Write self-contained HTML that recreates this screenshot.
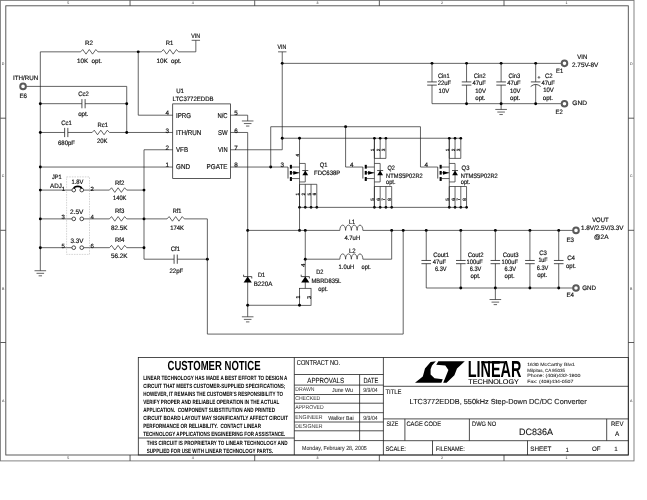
<!DOCTYPE html>
<html><head><meta charset="utf-8"><title>DC836A - LTC3772EDDB Step-Down DC/DC Converter</title>
<style>
html,body{margin:0;padding:0;background:#fff;}
svg{display:block;font-family:"Liberation Sans",sans-serif;text-rendering:geometricPrecision;filter:grayscale(1);}
</style></head>
<body>
<svg width="647" height="500" viewBox="0 0 647 500">
<rect x="0" y="0" width="647" height="500" fill="#fff"/>
<rect x="0.4" y="0.4" width="633.6" height="460.5" fill="none" stroke="#777" stroke-width="0.9" />
<rect x="5.8" y="5.8" width="622.5" height="449.2" fill="none" stroke="#4a4a4a" stroke-width="0.9" />
<line x1="130.05" y1="0.4" x2="130.05" y2="5.8" stroke="#333" stroke-width="0.8" />
<line x1="130.05" y1="455.0" x2="130.05" y2="460.9" stroke="#333" stroke-width="0.8" />
<line x1="254.7" y1="0.4" x2="254.7" y2="5.8" stroke="#333" stroke-width="0.8" />
<line x1="254.7" y1="455.0" x2="254.7" y2="460.9" stroke="#333" stroke-width="0.8" />
<line x1="379.35" y1="0.4" x2="379.35" y2="5.8" stroke="#333" stroke-width="0.8" />
<line x1="379.35" y1="455.0" x2="379.35" y2="460.9" stroke="#333" stroke-width="0.8" />
<line x1="504.0" y1="0.4" x2="504.0" y2="5.8" stroke="#333" stroke-width="0.8" />
<line x1="504.0" y1="455.0" x2="504.0" y2="460.9" stroke="#333" stroke-width="0.8" />
<line x1="0.4" y1="118.2" x2="5.8" y2="118.2" stroke="#333" stroke-width="0.8" />
<line x1="628.3" y1="118.2" x2="634.0" y2="118.2" stroke="#333" stroke-width="0.8" />
<line x1="0.4" y1="230.3" x2="5.8" y2="230.3" stroke="#333" stroke-width="0.8" />
<line x1="628.3" y1="230.3" x2="634.0" y2="230.3" stroke="#333" stroke-width="0.8" />
<line x1="0.4" y1="342.5" x2="5.8" y2="342.5" stroke="#333" stroke-width="0.8" />
<line x1="628.3" y1="342.5" x2="634.0" y2="342.5" stroke="#333" stroke-width="0.8" />
<text x="68.3" y="4.29" font-size="3.6" text-anchor="middle" fill="#222" xml:space="preserve">5</text>
<text x="68.3" y="459.39" font-size="3.6" text-anchor="middle" fill="#222" xml:space="preserve">5</text>
<text x="192.8" y="4.29" font-size="3.6" text-anchor="middle" fill="#222" xml:space="preserve">4</text>
<text x="192.8" y="459.39" font-size="3.6" text-anchor="middle" fill="#222" xml:space="preserve">4</text>
<text x="317.4" y="4.29" font-size="3.6" text-anchor="middle" fill="#222" xml:space="preserve">3</text>
<text x="317.4" y="459.39" font-size="3.6" text-anchor="middle" fill="#222" xml:space="preserve">3</text>
<text x="442" y="4.29" font-size="3.6" text-anchor="middle" fill="#222" xml:space="preserve">2</text>
<text x="442" y="459.39" font-size="3.6" text-anchor="middle" fill="#222" xml:space="preserve">2</text>
<text x="566.5" y="4.29" font-size="3.6" text-anchor="middle" fill="#222" xml:space="preserve">1</text>
<text x="566.5" y="459.39" font-size="3.6" text-anchor="middle" fill="#222" xml:space="preserve">1</text>
<text x="3.1" y="65.29" font-size="3.6" text-anchor="middle" fill="#222" xml:space="preserve">D</text>
<text x="631.3" y="65.29" font-size="3.6" text-anchor="middle" fill="#222" xml:space="preserve">D</text>
<text x="3.1" y="177.29" font-size="3.6" text-anchor="middle" fill="#222" xml:space="preserve">C</text>
<text x="631.3" y="177.29" font-size="3.6" text-anchor="middle" fill="#222" xml:space="preserve">C</text>
<text x="3.1" y="289.79" font-size="3.6" text-anchor="middle" fill="#222" xml:space="preserve">B</text>
<text x="631.3" y="289.79" font-size="3.6" text-anchor="middle" fill="#222" xml:space="preserve">B</text>
<text x="3.1" y="402.29" font-size="3.6" text-anchor="middle" fill="#222" xml:space="preserve">A</text>
<text x="631.3" y="402.29" font-size="3.6" text-anchor="middle" fill="#222" xml:space="preserve">A</text>
<line x1="40.32" y1="51.84" x2="40.32" y2="270.72" stroke="#222" stroke-width="0.7" />
<line x1="34.52" y1="270.72" x2="46.12" y2="270.72" stroke="#222" stroke-width="0.7" />
<line x1="36.52" y1="273.32000000000005" x2="44.12" y2="273.32000000000005" stroke="#222" stroke-width="0.7" />
<line x1="38.62" y1="275.82000000000005" x2="42.02" y2="275.82000000000005" stroke="#222" stroke-width="0.7" />
<line x1="40.32" y1="51.84" x2="80.64" y2="51.84" stroke="#222" stroke-width="0.7" />
<polyline points="80.64,51.84 82.74,49.540000000000006 86.01,54.14 89.28,49.540000000000006 92.55,54.14 95.82,49.540000000000006 97.92,51.84" fill="none" stroke="#222" stroke-width="0.7" />
<line x1="97.92" y1="51.84" x2="161.28" y2="51.84" stroke="#222" stroke-width="0.7" />
<polyline points="161.28,51.84 163.38,49.540000000000006 166.65,54.14 169.92,49.540000000000006 173.19,54.14 176.46,49.540000000000006 178.56,51.84" fill="none" stroke="#222" stroke-width="0.7" />
<polyline points="178.56,51.84 195.84,51.84 195.84,40.32" fill="none" stroke="#222" stroke-width="0.7" />
<line x1="191.64000000000001" y1="40.32" x2="200.04" y2="40.32" stroke="#222" stroke-width="0.7" />
<circle cx="138.24" cy="51.84" r="1.45" fill="#000"/>
<polyline points="138.24,51.84 138.24,115.2 172.8,115.2" fill="none" stroke="#222" stroke-width="0.7" />
<polyline points="25.04,86.4 126.72,86.4 126.72,132.48" fill="none" stroke="#222" stroke-width="0.7" />
<circle cx="23.04" cy="86.4" r="2.8" fill="#fff" stroke="#5a5a5a" stroke-width="2.0"/>
<line x1="40.32" y1="103.68" x2="81.92" y2="103.68" stroke="#222" stroke-width="0.7" />
<line x1="85.11999999999999" y1="103.68" x2="126.72" y2="103.68" stroke="#222" stroke-width="0.7" />
<line x1="81.92" y1="99.08000000000001" x2="81.92" y2="108.28" stroke="#222" stroke-width="0.8" />
<line x1="85.12" y1="99.08000000000001" x2="85.12" y2="108.28" stroke="#222" stroke-width="0.8" />
<circle cx="40.32" cy="103.68" r="1.45" fill="#000"/>
<circle cx="126.72" cy="103.68" r="1.45" fill="#000"/>
<line x1="40.32" y1="132.48" x2="64.64" y2="132.48" stroke="#222" stroke-width="0.7" />
<line x1="64.64" y1="127.88" x2="64.64" y2="137.07999999999998" stroke="#222" stroke-width="0.8" />
<line x1="67.84" y1="127.88" x2="67.84" y2="137.07999999999998" stroke="#222" stroke-width="0.8" />
<line x1="67.83999999999999" y1="132.48" x2="92.16" y2="132.48" stroke="#222" stroke-width="0.7" />
<polyline points="92.16,132.48 94.25999999999999,130.17999999999998 97.53,134.78 100.8,130.17999999999998 104.07,134.78 107.34,130.17999999999998 109.44,132.48" fill="none" stroke="#222" stroke-width="0.7" />
<line x1="109.44" y1="132.48" x2="172.8" y2="132.48" stroke="#222" stroke-width="0.7" />
<circle cx="40.32" cy="132.48" r="1.45" fill="#000"/>
<circle cx="126.72" cy="132.48" r="1.45" fill="#000"/>
<polyline points="172.8,149.76 144.0,149.76 144.0,259.2 174.08,259.2" fill="none" stroke="#222" stroke-width="0.7" />
<line x1="174.08" y1="254.6" x2="174.08" y2="263.8" stroke="#222" stroke-width="0.8" />
<line x1="177.28" y1="254.6" x2="177.28" y2="263.8" stroke="#222" stroke-width="0.8" />
<line x1="177.28" y1="259.2" x2="207.36" y2="259.2" stroke="#222" stroke-width="0.7" />
<circle cx="207.36" cy="259.2" r="1.45" fill="#000"/>
<line x1="40.32" y1="167.04" x2="172.8" y2="167.04" stroke="#222" stroke-width="0.7" />
<circle cx="40.32" cy="167.04" r="1.45" fill="#000"/>
<line x1="40.32" y1="190.08" x2="71.86" y2="190.08" stroke="#222" stroke-width="0.7" />
<line x1="83.66000000000001" y1="190.08" x2="109.44" y2="190.08" stroke="#222" stroke-width="0.7" />
<polyline points="109.44,190.08 111.53999999999999,187.78 114.81,192.38000000000002 118.08,187.78 121.35,192.38000000000002 124.62,187.78 126.72,190.08" fill="none" stroke="#222" stroke-width="0.7" />
<line x1="126.72" y1="190.08" x2="144.0" y2="190.08" stroke="#222" stroke-width="0.7" />
<circle cx="40.32" cy="190.08" r="1.45" fill="#000"/>
<circle cx="144.0" cy="190.08" r="1.45" fill="#000"/>
<circle cx="73.76" cy="190.08" r="1.85" fill="#fff" stroke="#111" stroke-width="0.75"/>
<circle cx="81.76" cy="190.08" r="1.85" fill="#fff" stroke="#111" stroke-width="0.75"/>
<line x1="40.32" y1="218.88" x2="71.86" y2="218.88" stroke="#222" stroke-width="0.7" />
<line x1="83.66000000000001" y1="218.88" x2="109.44" y2="218.88" stroke="#222" stroke-width="0.7" />
<polyline points="109.44,218.88 111.53999999999999,216.57999999999998 114.81,221.18 118.08,216.57999999999998 121.35,221.18 124.62,216.57999999999998 126.72,218.88" fill="none" stroke="#222" stroke-width="0.7" />
<line x1="126.72" y1="218.88" x2="144.0" y2="218.88" stroke="#222" stroke-width="0.7" />
<circle cx="40.32" cy="218.88" r="1.45" fill="#000"/>
<circle cx="144.0" cy="218.88" r="1.45" fill="#000"/>
<circle cx="73.76" cy="218.88" r="1.85" fill="#fff" stroke="#111" stroke-width="0.75"/>
<circle cx="81.76" cy="218.88" r="1.85" fill="#fff" stroke="#111" stroke-width="0.75"/>
<line x1="40.32" y1="247.68" x2="71.86" y2="247.68" stroke="#222" stroke-width="0.7" />
<line x1="83.66000000000001" y1="247.68" x2="109.44" y2="247.68" stroke="#222" stroke-width="0.7" />
<polyline points="109.44,247.68 111.53999999999999,245.38 114.81,249.98000000000002 118.08,245.38 121.35,249.98000000000002 124.62,245.38 126.72,247.68" fill="none" stroke="#222" stroke-width="0.7" />
<line x1="126.72" y1="247.68" x2="144.0" y2="247.68" stroke="#222" stroke-width="0.7" />
<circle cx="40.32" cy="247.68" r="1.45" fill="#000"/>
<circle cx="144.0" cy="247.68" r="1.45" fill="#000"/>
<circle cx="73.76" cy="247.68" r="1.85" fill="#fff" stroke="#111" stroke-width="0.75"/>
<circle cx="81.76" cy="247.68" r="1.85" fill="#fff" stroke="#111" stroke-width="0.75"/>
<path d="M73.86,188.48 C74.56,185.68 80.96,185.68 81.66,188.48" fill="none" stroke="#000" stroke-width="1.7"/>
<rect x="66.6" y="176.9" width="22.900000000000006" height="77.5" fill="none" stroke="#aaa" stroke-width="0.5" stroke-dasharray="1.6 1.0"/>
<line x1="144.0" y1="218.88" x2="167.04" y2="218.88" stroke="#222" stroke-width="0.7" />
<polyline points="167.04,218.88 169.14,216.57999999999998 172.41,221.18 175.68,216.57999999999998 178.95,221.18 182.22,216.57999999999998 184.32,218.88" fill="none" stroke="#222" stroke-width="0.7" />
<polyline points="184.32,218.88 207.36,218.88 207.36,334.08 403.2,334.08 403.2,230.4" fill="none" stroke="#222" stroke-width="0.7" />
<rect x="172.7" y="103.9" width="57.80000000000001" height="74.6" fill="none" stroke="#222" stroke-width="0.75" />
<polyline points="230.5,115.2 247.68,115.2 247.68,120.96" fill="none" stroke="#222" stroke-width="0.7" />
<line x1="241.88" y1="120.96" x2="253.48000000000002" y2="120.96" stroke="#222" stroke-width="0.7" />
<line x1="243.88" y1="123.55999999999999" x2="251.48000000000002" y2="123.55999999999999" stroke="#222" stroke-width="0.7" />
<line x1="245.98000000000002" y1="126.05999999999999" x2="249.38" y2="126.05999999999999" stroke="#222" stroke-width="0.7" />
<polyline points="230.5,132.48 247.68,132.48 247.68,316.8" fill="none" stroke="#222" stroke-width="0.7" />
<line x1="241.88" y1="316.8" x2="253.48000000000002" y2="316.8" stroke="#222" stroke-width="0.7" />
<line x1="243.88" y1="319.40000000000003" x2="251.48000000000002" y2="319.40000000000003" stroke="#222" stroke-width="0.7" />
<line x1="245.98000000000002" y1="321.90000000000003" x2="249.38" y2="321.90000000000003" stroke="#222" stroke-width="0.7" />
<circle cx="247.68" cy="230.4" r="1.45" fill="#000"/>
<circle cx="247.68" cy="305.28" r="1.45" fill="#000"/>
<line x1="230.5" y1="149.76" x2="282.24" y2="149.76" stroke="#222" stroke-width="0.7" />
<line x1="282.24" y1="51.84" x2="282.24" y2="149.76" stroke="#222" stroke-width="0.7" />
<line x1="278.04" y1="51.84" x2="286.44" y2="51.84" stroke="#222" stroke-width="0.7" />
<circle cx="282.24" cy="63.36" r="1.45" fill="#000"/>
<circle cx="282.24" cy="138.24" r="1.45" fill="#000"/>
<line x1="230.5" y1="167.04" x2="288.0" y2="167.04" stroke="#222" stroke-width="0.7" />
<circle cx="270.72" cy="167.04" r="1.45" fill="#000"/>
<polyline points="270.72,167.04 270.72,126.72 420.48,126.72 420.48,167.04 437.76,167.04" fill="none" stroke="#222" stroke-width="0.7" />
<circle cx="345.6" cy="126.72" r="1.45" fill="#000"/>
<polyline points="345.6,126.72 345.6,167.04 362.88,167.04" fill="none" stroke="#222" stroke-width="0.7" />
<line x1="282.24" y1="63.36" x2="561.48" y2="63.36" stroke="#222" stroke-width="0.7" />
<circle cx="432.0" cy="63.36" r="1.45" fill="#000"/>
<circle cx="466.56" cy="63.36" r="1.45" fill="#000"/>
<circle cx="501.12" cy="63.36" r="1.45" fill="#000"/>
<circle cx="535.68" cy="63.36" r="1.45" fill="#000"/>
<line x1="282.24" y1="138.24" x2="460.8" y2="138.24" stroke="#222" stroke-width="0.7" />
<line x1="288.0" y1="167.04" x2="288.0" y2="178.54" stroke="#222" stroke-width="0.8" />
<line x1="290.9" y1="164.84" x2="290.9" y2="168.64" stroke="#000" stroke-width="2.1" />
<line x1="290.9" y1="170.94" x2="290.9" y2="174.64" stroke="#000" stroke-width="2.1" />
<line x1="290.9" y1="177.04" x2="290.9" y2="180.94" stroke="#000" stroke-width="2.1" />
<line x1="290.9" y1="167.04" x2="299.52" y2="167.04" stroke="#222" stroke-width="0.7" />
<line x1="290.9" y1="172.79999999999998" x2="299.52" y2="172.79999999999998" stroke="#222" stroke-width="0.7" />
<line x1="290.9" y1="178.56" x2="299.52" y2="178.56" stroke="#222" stroke-width="0.7" />
<polygon points="299.21999999999997,172.79999999999998 293.21999999999997,170.94 293.21999999999997,174.64" fill="#000" stroke="none" stroke-width="0"/>
<line x1="299.52" y1="138.24" x2="299.52" y2="207.36" stroke="#222" stroke-width="0.7" />
<polyline points="299.52,163.44 305.28,163.44 305.28,181.94 299.52,181.94" fill="none" stroke="#222" stroke-width="0.7" />
<polygon points="305.28,170.54 302.38,175.34 308.17999999999995,175.34" fill="#000" stroke="none" stroke-width="0"/>
<line x1="302.28" y1="170.54" x2="308.28" y2="170.54" stroke="#222" stroke-width="0.8" />
<line x1="299.52" y1="184.32" x2="316.8" y2="184.32" stroke="#222" stroke-width="0.7" />
<line x1="299.52" y1="184.32" x2="299.52" y2="207.36" stroke="#222" stroke-width="0.7" />
<circle cx="299.52" cy="207.36" r="1.35" fill="#000"/>
<line x1="305.28" y1="184.32" x2="305.28" y2="207.36" stroke="#222" stroke-width="0.7" />
<circle cx="305.28" cy="207.36" r="1.35" fill="#000"/>
<line x1="311.04" y1="184.32" x2="311.04" y2="207.36" stroke="#222" stroke-width="0.7" />
<circle cx="311.04" cy="207.36" r="1.35" fill="#000"/>
<line x1="316.8" y1="184.32" x2="316.8" y2="207.36" stroke="#222" stroke-width="0.7" />
<circle cx="316.8" cy="207.36" r="1.35" fill="#000"/>
<circle cx="299.52" cy="138.24" r="1.45" fill="#000"/>
<line x1="362.88" y1="167.04" x2="362.88" y2="178.54" stroke="#222" stroke-width="0.8" />
<line x1="365.78" y1="164.84" x2="365.78" y2="168.64" stroke="#000" stroke-width="2.1" />
<line x1="365.78" y1="170.94" x2="365.78" y2="174.64" stroke="#000" stroke-width="2.1" />
<line x1="365.78" y1="177.04" x2="365.78" y2="180.94" stroke="#000" stroke-width="2.1" />
<line x1="365.78" y1="167.04" x2="374.4" y2="167.04" stroke="#222" stroke-width="0.7" />
<line x1="365.78" y1="172.79999999999998" x2="374.4" y2="172.79999999999998" stroke="#222" stroke-width="0.7" />
<line x1="365.78" y1="178.56" x2="374.4" y2="178.56" stroke="#222" stroke-width="0.7" />
<polygon points="374.09999999999997,172.79999999999998 368.09999999999997,170.94 368.09999999999997,174.64" fill="#000" stroke="none" stroke-width="0"/>
<line x1="374.4" y1="138.24" x2="374.4" y2="207.36" stroke="#222" stroke-width="0.7" />
<polyline points="374.4,163.44 380.16,163.44 380.16,181.94 374.4,181.94" fill="none" stroke="#222" stroke-width="0.7" />
<polygon points="380.16,170.54 377.26000000000005,175.34 383.06,175.34" fill="#000" stroke="none" stroke-width="0"/>
<line x1="377.16" y1="170.54" x2="383.16" y2="170.54" stroke="#222" stroke-width="0.8" />
<line x1="374.4" y1="186.5" x2="391.68" y2="186.5" stroke="#222" stroke-width="0.7" />
<line x1="374.4" y1="186.5" x2="374.4" y2="207.36" stroke="#222" stroke-width="0.7" />
<circle cx="374.4" cy="207.36" r="1.35" fill="#000"/>
<line x1="380.16" y1="186.5" x2="380.16" y2="207.36" stroke="#222" stroke-width="0.7" />
<circle cx="380.16" cy="207.36" r="1.35" fill="#000"/>
<line x1="385.92" y1="186.5" x2="385.92" y2="207.36" stroke="#222" stroke-width="0.7" />
<circle cx="385.92" cy="207.36" r="1.35" fill="#000"/>
<line x1="391.68" y1="186.5" x2="391.68" y2="207.36" stroke="#222" stroke-width="0.7" />
<circle cx="391.68" cy="207.36" r="1.35" fill="#000"/>
<line x1="374.4" y1="158.4" x2="385.92" y2="158.4" stroke="#222" stroke-width="0.7" />
<line x1="374.4" y1="138.24" x2="374.4" y2="158.4" stroke="#222" stroke-width="0.7" />
<circle cx="374.4" cy="138.24" r="1.35" fill="#000"/>
<line x1="380.16" y1="138.24" x2="380.16" y2="158.4" stroke="#222" stroke-width="0.7" />
<circle cx="380.16" cy="138.24" r="1.35" fill="#000"/>
<line x1="385.92" y1="138.24" x2="385.92" y2="158.4" stroke="#222" stroke-width="0.7" />
<circle cx="385.92" cy="138.24" r="1.35" fill="#000"/>
<line x1="437.76" y1="167.04" x2="437.76" y2="178.54" stroke="#222" stroke-width="0.8" />
<line x1="440.65999999999997" y1="164.84" x2="440.65999999999997" y2="168.64" stroke="#000" stroke-width="2.1" />
<line x1="440.65999999999997" y1="170.94" x2="440.65999999999997" y2="174.64" stroke="#000" stroke-width="2.1" />
<line x1="440.65999999999997" y1="177.04" x2="440.65999999999997" y2="180.94" stroke="#000" stroke-width="2.1" />
<line x1="440.65999999999997" y1="167.04" x2="449.28" y2="167.04" stroke="#222" stroke-width="0.7" />
<line x1="440.65999999999997" y1="172.79999999999998" x2="449.28" y2="172.79999999999998" stroke="#222" stroke-width="0.7" />
<line x1="440.65999999999997" y1="178.56" x2="449.28" y2="178.56" stroke="#222" stroke-width="0.7" />
<polygon points="448.97999999999996,172.79999999999998 442.97999999999996,170.94 442.97999999999996,174.64" fill="#000" stroke="none" stroke-width="0"/>
<line x1="449.28" y1="138.24" x2="449.28" y2="207.36" stroke="#222" stroke-width="0.7" />
<polyline points="449.28,163.44 455.04,163.44 455.04,181.94 449.28,181.94" fill="none" stroke="#222" stroke-width="0.7" />
<polygon points="455.04,170.54 452.14000000000004,175.34 457.94,175.34" fill="#000" stroke="none" stroke-width="0"/>
<line x1="452.04" y1="170.54" x2="458.04" y2="170.54" stroke="#222" stroke-width="0.8" />
<line x1="449.28" y1="186.5" x2="466.56" y2="186.5" stroke="#222" stroke-width="0.7" />
<line x1="449.28" y1="186.5" x2="449.28" y2="207.36" stroke="#222" stroke-width="0.7" />
<circle cx="449.28" cy="207.36" r="1.35" fill="#000"/>
<line x1="455.04" y1="186.5" x2="455.04" y2="207.36" stroke="#222" stroke-width="0.7" />
<circle cx="455.04" cy="207.36" r="1.35" fill="#000"/>
<line x1="460.8" y1="186.5" x2="460.8" y2="207.36" stroke="#222" stroke-width="0.7" />
<circle cx="460.8" cy="207.36" r="1.35" fill="#000"/>
<line x1="466.56" y1="186.5" x2="466.56" y2="207.36" stroke="#222" stroke-width="0.7" />
<circle cx="466.56" cy="207.36" r="1.35" fill="#000"/>
<line x1="449.28" y1="158.4" x2="460.8" y2="158.4" stroke="#222" stroke-width="0.7" />
<line x1="449.28" y1="138.24" x2="449.28" y2="158.4" stroke="#222" stroke-width="0.7" />
<circle cx="449.28" cy="138.24" r="1.35" fill="#000"/>
<line x1="455.04" y1="138.24" x2="455.04" y2="158.4" stroke="#222" stroke-width="0.7" />
<circle cx="455.04" cy="138.24" r="1.35" fill="#000"/>
<line x1="460.8" y1="138.24" x2="460.8" y2="158.4" stroke="#222" stroke-width="0.7" />
<circle cx="460.8" cy="138.24" r="1.35" fill="#000"/>
<line x1="299.52" y1="207.36" x2="466.56" y2="207.36" stroke="#222" stroke-width="0.7" />
<line x1="299.52" y1="207.36" x2="299.52" y2="230.4" stroke="#222" stroke-width="0.7" />
<circle cx="299.52" cy="230.4" r="1.45" fill="#000"/>
<line x1="247.68" y1="230.4" x2="339.84" y2="230.4" stroke="#222" stroke-width="0.7" />
<path d="M339.84,230.4 a2.88,5.3 0 0 1 5.76,0 a2.88,5.3 0 0 1 5.76,0 a2.88,5.3 0 0 1 5.76,0 a2.88,5.3 0 0 1 5.76,0" fill="none" stroke="#222" stroke-width="0.7"/>
<line x1="362.88" y1="230.4" x2="573.0" y2="230.4" stroke="#222" stroke-width="0.7" />
<circle cx="305.28" cy="230.4" r="1.45" fill="#000"/>
<circle cx="391.68" cy="230.4" r="1.45" fill="#000"/>
<circle cx="403.2" cy="230.4" r="1.45" fill="#000"/>
<circle cx="426.24" cy="230.4" r="1.45" fill="#000"/>
<circle cx="460.8" cy="230.4" r="1.45" fill="#000"/>
<circle cx="495.36" cy="230.4" r="1.45" fill="#000"/>
<circle cx="529.92" cy="230.4" r="1.45" fill="#000"/>
<circle cx="558.72" cy="230.4" r="1.45" fill="#000"/>
<line x1="305.28" y1="230.4" x2="305.28" y2="288.3" stroke="#222" stroke-width="0.7" />
<circle cx="305.28" cy="259.2" r="1.45" fill="#000"/>
<line x1="305.28" y1="259.2" x2="339.84" y2="259.2" stroke="#222" stroke-width="0.7" />
<path d="M339.84,259.2 a2.88,5.3 0 0 1 5.76,0 a2.88,5.3 0 0 1 5.76,0 a2.88,5.3 0 0 1 5.76,0 a2.88,5.3 0 0 1 5.76,0" fill="none" stroke="#222" stroke-width="0.7"/>
<polyline points="362.88,259.2 391.68,259.2 391.68,230.4" fill="none" stroke="#222" stroke-width="0.7" />
<rect x="299.52" y="288.3" width="11.520000000000039" height="16.97999999999996" fill="none" stroke="#222" stroke-width="0.7" />
<line x1="247.68" y1="305.28" x2="299.52" y2="305.28" stroke="#222" stroke-width="0.7" />
<circle cx="299.52" cy="305.28" r="1.45" fill="#000"/>
<polygon points="247.68,276.6 243.58,282.4 251.78,282.4" fill="#000" stroke="none" stroke-width="0"/>
<polyline points="243.58,274.70000000000005 243.58,276.6 251.78,276.6 251.78,278.5" fill="none" stroke="#222" stroke-width="0.8" />
<polygon points="305.28,276.6 301.17999999999995,282.4 309.38,282.4" fill="#000" stroke="none" stroke-width="0"/>
<polyline points="301.17999999999995,274.70000000000005 301.17999999999995,276.6 309.38,276.6 309.38,278.5" fill="none" stroke="#222" stroke-width="0.8" />
<line x1="426.24" y1="230.4" x2="426.24" y2="260.47999999999996" stroke="#222" stroke-width="0.7" />
<line x1="426.24" y1="263.68" x2="426.24" y2="288.0" stroke="#222" stroke-width="0.7" />
<line x1="421.44" y1="260.48" x2="431.04" y2="260.48" stroke="#222" stroke-width="0.8" />
<line x1="421.44" y1="263.68" x2="431.04" y2="263.68" stroke="#222" stroke-width="0.8" />
<line x1="460.8" y1="230.4" x2="460.8" y2="260.47999999999996" stroke="#222" stroke-width="0.7" />
<line x1="460.8" y1="263.68" x2="460.8" y2="288.0" stroke="#222" stroke-width="0.7" />
<line x1="456.0" y1="260.48" x2="465.6" y2="260.48" stroke="#222" stroke-width="0.8" />
<line x1="456.0" y1="263.68" x2="465.6" y2="263.68" stroke="#222" stroke-width="0.8" />
<line x1="495.36" y1="230.4" x2="495.36" y2="260.47999999999996" stroke="#222" stroke-width="0.7" />
<line x1="495.36" y1="263.68" x2="495.36" y2="288.0" stroke="#222" stroke-width="0.7" />
<line x1="490.56" y1="260.48" x2="500.16" y2="260.48" stroke="#222" stroke-width="0.8" />
<line x1="490.56" y1="263.68" x2="500.16" y2="263.68" stroke="#222" stroke-width="0.8" />
<line x1="529.92" y1="230.4" x2="529.92" y2="260.47999999999996" stroke="#222" stroke-width="0.7" />
<line x1="529.92" y1="263.68" x2="529.92" y2="288.0" stroke="#222" stroke-width="0.7" />
<line x1="525.12" y1="260.48" x2="534.7199999999999" y2="260.48" stroke="#222" stroke-width="0.8" />
<line x1="525.12" y1="263.68" x2="534.7199999999999" y2="263.68" stroke="#222" stroke-width="0.8" />
<line x1="558.72" y1="230.4" x2="558.72" y2="260.47999999999996" stroke="#222" stroke-width="0.7" />
<line x1="558.72" y1="263.68" x2="558.72" y2="288.0" stroke="#222" stroke-width="0.7" />
<line x1="553.9200000000001" y1="260.48" x2="563.52" y2="260.48" stroke="#222" stroke-width="0.8" />
<line x1="553.9200000000001" y1="263.68" x2="563.52" y2="263.68" stroke="#222" stroke-width="0.8" />
<line x1="426.24" y1="288.0" x2="573.0" y2="288.0" stroke="#222" stroke-width="0.7" />
<circle cx="460.8" cy="288.0" r="1.45" fill="#000"/>
<circle cx="495.36" cy="288.0" r="1.45" fill="#000"/>
<circle cx="529.92" cy="288.0" r="1.45" fill="#000"/>
<circle cx="558.72" cy="288.0" r="1.45" fill="#000"/>
<line x1="495.36" y1="288.0" x2="495.36" y2="299.52" stroke="#222" stroke-width="0.7" />
<line x1="489.56" y1="299.52" x2="501.16" y2="299.52" stroke="#222" stroke-width="0.7" />
<line x1="491.56" y1="302.12" x2="499.16" y2="302.12" stroke="#222" stroke-width="0.7" />
<line x1="493.66" y1="304.62" x2="497.06" y2="304.62" stroke="#222" stroke-width="0.7" />
<circle cx="576.0" cy="230.4" r="2.8" fill="#fff" stroke="#5a5a5a" stroke-width="2.0"/>
<circle cx="576.0" cy="288.0" r="2.8" fill="#fff" stroke="#5a5a5a" stroke-width="2.0"/>
<line x1="432.0" y1="63.36" x2="432.0" y2="81.92" stroke="#222" stroke-width="0.7" />
<line x1="432.0" y1="85.11999999999999" x2="432.0" y2="103.68" stroke="#222" stroke-width="0.7" />
<line x1="427.2" y1="81.92" x2="436.8" y2="81.92" stroke="#222" stroke-width="0.8" />
<line x1="427.2" y1="85.12" x2="436.8" y2="85.12" stroke="#222" stroke-width="0.8" />
<line x1="466.56" y1="63.36" x2="466.56" y2="81.92" stroke="#222" stroke-width="0.7" />
<line x1="466.56" y1="85.11999999999999" x2="466.56" y2="103.68" stroke="#222" stroke-width="0.7" />
<line x1="461.76" y1="81.92" x2="471.36" y2="81.92" stroke="#222" stroke-width="0.8" />
<line x1="461.76" y1="85.12" x2="471.36" y2="85.12" stroke="#222" stroke-width="0.8" />
<line x1="501.12" y1="63.36" x2="501.12" y2="81.92" stroke="#222" stroke-width="0.7" />
<line x1="501.12" y1="85.11999999999999" x2="501.12" y2="103.68" stroke="#222" stroke-width="0.7" />
<line x1="496.32" y1="81.92" x2="505.92" y2="81.92" stroke="#222" stroke-width="0.8" />
<line x1="496.32" y1="85.12" x2="505.92" y2="85.12" stroke="#222" stroke-width="0.8" />
<line x1="535.68" y1="63.36" x2="535.68" y2="81.92" stroke="#222" stroke-width="0.7" />
<line x1="535.68" y1="84.42" x2="535.68" y2="103.68" stroke="#222" stroke-width="0.7" />
<line x1="530.88" y1="81.92" x2="540.4799999999999" y2="81.92" stroke="#222" stroke-width="0.8" />
<path d="M530.68,86.52 Q535.68,82.32 540.68,86.52" fill="none" stroke="#222" stroke-width="0.8"/>
<line x1="432.0" y1="103.68" x2="561.48" y2="103.68" stroke="#222" stroke-width="0.7" />
<circle cx="466.56" cy="103.68" r="1.45" fill="#000"/>
<circle cx="501.12" cy="103.68" r="1.45" fill="#000"/>
<circle cx="535.68" cy="103.68" r="1.45" fill="#000"/>
<line x1="501.12" y1="103.68" x2="501.12" y2="109.44" stroke="#222" stroke-width="0.7" />
<line x1="495.32" y1="109.44" x2="506.92" y2="109.44" stroke="#222" stroke-width="0.7" />
<line x1="497.32" y1="112.03999999999999" x2="504.92" y2="112.03999999999999" stroke="#222" stroke-width="0.7" />
<line x1="499.42" y1="114.53999999999999" x2="502.82" y2="114.53999999999999" stroke="#222" stroke-width="0.7" />
<circle cx="564.48" cy="63.36" r="2.8" fill="#fff" stroke="#5a5a5a" stroke-width="2.0"/>
<circle cx="564.48" cy="103.68" r="2.8" fill="#fff" stroke="#5a5a5a" stroke-width="2.0"/>
<text x="85" y="44.77" font-size="6.35" textLength="8" lengthAdjust="spacingAndGlyphs" fill="#111" stroke="#111" stroke-width="0.18" xml:space="preserve">R2</text>
<text x="77" y="62.77" font-size="6.35" textLength="25" lengthAdjust="spacingAndGlyphs" fill="#111" stroke="#111" stroke-width="0.18" xml:space="preserve">10K  opt.</text>
<text x="165.7" y="44.77" font-size="6.35" textLength="7.6" lengthAdjust="spacingAndGlyphs" fill="#111" stroke="#111" stroke-width="0.18" xml:space="preserve">R1</text>
<text x="156.5" y="62.77" font-size="6.35" textLength="25" lengthAdjust="spacingAndGlyphs" fill="#111" stroke="#111" stroke-width="0.18" xml:space="preserve">10K  opt.</text>
<text x="191.3" y="38.27" font-size="6.35" textLength="8.8" lengthAdjust="spacingAndGlyphs" fill="#111" stroke="#111" stroke-width="0.18" xml:space="preserve">VIN</text>
<text x="277.6" y="49.27" font-size="6.35" textLength="8.8" lengthAdjust="spacingAndGlyphs" fill="#111" stroke="#111" stroke-width="0.18" xml:space="preserve">VIN</text>
<text x="13" y="79.77" font-size="6.35" textLength="25.3" lengthAdjust="spacingAndGlyphs" fill="#111" stroke="#111" stroke-width="0.18" xml:space="preserve">ITH/RUN</text>
<text x="19.5" y="98.07" font-size="6.35" textLength="7.5" lengthAdjust="spacingAndGlyphs" fill="#111" stroke="#111" stroke-width="0.18" xml:space="preserve">E6</text>
<text x="78.2" y="95.57" font-size="6.35" textLength="10.5" lengthAdjust="spacingAndGlyphs" fill="#111" stroke="#111" stroke-width="0.18" xml:space="preserve">Cc2</text>
<text x="78.2" y="116.17" font-size="6.35" textLength="10.3" lengthAdjust="spacingAndGlyphs" fill="#111" stroke="#111" stroke-width="0.18" xml:space="preserve">opt.</text>
<text x="61.2" y="124.77" font-size="6.35" textLength="10.5" lengthAdjust="spacingAndGlyphs" fill="#111" stroke="#111" stroke-width="0.18" xml:space="preserve">Cc1</text>
<text x="58" y="144.77" font-size="6.35" textLength="17" lengthAdjust="spacingAndGlyphs" fill="#111" stroke="#111" stroke-width="0.18" xml:space="preserve">680pF</text>
<text x="97.5" y="127.27" font-size="6.35" textLength="10.5" lengthAdjust="spacingAndGlyphs" fill="#111" stroke="#111" stroke-width="0.18" xml:space="preserve">Rc1</text>
<text x="97" y="142.77" font-size="6.35" textLength="10.5" lengthAdjust="spacingAndGlyphs" fill="#111" stroke="#111" stroke-width="0.18" xml:space="preserve">20K</text>
<text x="176.2" y="93.27" font-size="6.35" textLength="7.8" lengthAdjust="spacingAndGlyphs" fill="#111" stroke="#111" stroke-width="0.18" xml:space="preserve">U1</text>
<text x="172.5" y="101.27" font-size="6.35" textLength="41" lengthAdjust="spacingAndGlyphs" fill="#111" stroke="#111" stroke-width="0.18" xml:space="preserve">LTC3772EDDB</text>
<text x="176" y="118.01" font-size="7" textLength="15" lengthAdjust="spacingAndGlyphs" fill="#111" stroke="#111" stroke-width="0.18" xml:space="preserve">IPRG</text>
<text x="217.4" y="118.01" font-size="7" textLength="10.2" lengthAdjust="spacingAndGlyphs" fill="#111" stroke="#111" stroke-width="0.18" xml:space="preserve">N/C</text>
<text x="176" y="135.21" font-size="7" textLength="25.4" lengthAdjust="spacingAndGlyphs" fill="#111" stroke="#111" stroke-width="0.18" xml:space="preserve">ITH/RUN</text>
<text x="218.0" y="135.21" font-size="7" textLength="9.6" lengthAdjust="spacingAndGlyphs" fill="#111" stroke="#111" stroke-width="0.18" xml:space="preserve">SW</text>
<text x="176" y="152.41" font-size="7" textLength="12" lengthAdjust="spacingAndGlyphs" fill="#111" stroke="#111" stroke-width="0.18" xml:space="preserve">VFB</text>
<text x="218.0" y="152.41" font-size="7" textLength="9.6" lengthAdjust="spacingAndGlyphs" fill="#111" stroke="#111" stroke-width="0.18" xml:space="preserve">VIN</text>
<text x="176" y="169.41" font-size="7" textLength="14" lengthAdjust="spacingAndGlyphs" fill="#111" stroke="#111" stroke-width="0.18" xml:space="preserve">GND</text>
<text x="206.6" y="169.41" font-size="7" textLength="21" lengthAdjust="spacingAndGlyphs" fill="#111" stroke="#111" stroke-width="0.18" xml:space="preserve">PGATE</text>
<text x="165.4" y="115.26" font-size="6.3" fill="#111" stroke="#111" stroke-width="0.18" xml:space="preserve">4</text>
<text x="234.2" y="115.26" font-size="6.3" fill="#111" stroke="#111" stroke-width="0.18" xml:space="preserve">5</text>
<text x="165.4" y="132.76" font-size="6.3" fill="#111" stroke="#111" stroke-width="0.18" xml:space="preserve">3</text>
<text x="234.2" y="132.76" font-size="6.3" fill="#111" stroke="#111" stroke-width="0.18" xml:space="preserve">6</text>
<text x="165.4" y="149.86" font-size="6.3" fill="#111" stroke="#111" stroke-width="0.18" xml:space="preserve">2</text>
<text x="234.2" y="149.86" font-size="6.3" fill="#111" stroke="#111" stroke-width="0.18" xml:space="preserve">7</text>
<text x="165.4" y="167.26" font-size="6.3" fill="#111" stroke="#111" stroke-width="0.18" xml:space="preserve">1</text>
<text x="234.2" y="167.26" font-size="6.3" fill="#111" stroke="#111" stroke-width="0.18" xml:space="preserve">8</text>
<text x="51.9" y="179.47" font-size="6.35" textLength="9.7" lengthAdjust="spacingAndGlyphs" fill="#111" stroke="#111" stroke-width="0.18" xml:space="preserve">JP1</text>
<text x="50.1" y="187.57" font-size="6.35" textLength="11.8" lengthAdjust="spacingAndGlyphs" fill="#111" stroke="#111" stroke-width="0.18" xml:space="preserve">ADJ</text>
<text x="61.8" y="190.75" font-size="6" fill="#111" stroke="#111" stroke-width="0.18" xml:space="preserve">1</text>
<text x="90.6" y="190.55" font-size="6" fill="#111" stroke="#111" stroke-width="0.18" xml:space="preserve">2</text>
<text x="61.6" y="219.25" font-size="6" fill="#111" stroke="#111" stroke-width="0.18" xml:space="preserve">3</text>
<text x="90.6" y="219.25" font-size="6" fill="#111" stroke="#111" stroke-width="0.18" xml:space="preserve">4</text>
<text x="61.6" y="248.05" font-size="6" fill="#111" stroke="#111" stroke-width="0.18" xml:space="preserve">5</text>
<text x="90.6" y="248.05" font-size="6" fill="#111" stroke="#111" stroke-width="0.18" xml:space="preserve">6</text>
<text x="71.5" y="183.87" font-size="6.35" textLength="11.9" lengthAdjust="spacingAndGlyphs" fill="#111" stroke="#111" stroke-width="0.18" xml:space="preserve">1.8V</text>
<text x="70.1" y="214.27" font-size="6.35" textLength="13.3" lengthAdjust="spacingAndGlyphs" fill="#111" stroke="#111" stroke-width="0.18" xml:space="preserve">2.5V</text>
<text x="70.5" y="243.07" font-size="6.35" textLength="12.9" lengthAdjust="spacingAndGlyphs" fill="#111" stroke="#111" stroke-width="0.18" xml:space="preserve">3.3V</text>
<text x="115" y="184.87" font-size="6.35" textLength="9.4" lengthAdjust="spacingAndGlyphs" fill="#111" stroke="#111" stroke-width="0.18" xml:space="preserve">Rf2</text>
<text x="113" y="200.27" font-size="6.35" textLength="13.4" lengthAdjust="spacingAndGlyphs" fill="#111" stroke="#111" stroke-width="0.18" xml:space="preserve">140K</text>
<text x="115" y="213.27" font-size="6.35" textLength="9.4" lengthAdjust="spacingAndGlyphs" fill="#111" stroke="#111" stroke-width="0.18" xml:space="preserve">Rf3</text>
<text x="111" y="229.67" font-size="6.35" textLength="16.6" lengthAdjust="spacingAndGlyphs" fill="#111" stroke="#111" stroke-width="0.18" xml:space="preserve">82.5K</text>
<text x="115" y="242.27" font-size="6.35" textLength="9.4" lengthAdjust="spacingAndGlyphs" fill="#111" stroke="#111" stroke-width="0.18" xml:space="preserve">Rf4</text>
<text x="111" y="258.27" font-size="6.35" textLength="16.6" lengthAdjust="spacingAndGlyphs" fill="#111" stroke="#111" stroke-width="0.18" xml:space="preserve">56.2K</text>
<text x="172.7" y="213.17" font-size="6.35" textLength="8.8" lengthAdjust="spacingAndGlyphs" fill="#111" stroke="#111" stroke-width="0.18" xml:space="preserve">Rf1</text>
<text x="170.2" y="229.87" font-size="6.35" textLength="13.8" lengthAdjust="spacingAndGlyphs" fill="#111" stroke="#111" stroke-width="0.18" xml:space="preserve">174K</text>
<text x="170.7" y="251.47" font-size="6.35" textLength="9.3" lengthAdjust="spacingAndGlyphs" fill="#111" stroke="#111" stroke-width="0.18" xml:space="preserve">Cf1</text>
<text x="169.5" y="272.67" font-size="6.35" textLength="13.8" lengthAdjust="spacingAndGlyphs" fill="#111" stroke="#111" stroke-width="0.18" xml:space="preserve">22pF</text>
<text x="258" y="277.47" font-size="6.35" textLength="7.3" lengthAdjust="spacingAndGlyphs" fill="#111" stroke="#111" stroke-width="0.18" xml:space="preserve">D1</text>
<text x="253.7" y="285.77" font-size="6.35" textLength="18.7" lengthAdjust="spacingAndGlyphs" fill="#111" stroke="#111" stroke-width="0.18" xml:space="preserve">B220A</text>
<text x="316.3" y="274.27" font-size="6.35" textLength="7.2" lengthAdjust="spacingAndGlyphs" fill="#111" stroke="#111" stroke-width="0.18" xml:space="preserve">D2</text>
<text x="311.5" y="283.27" font-size="6.35" textLength="29.8" lengthAdjust="spacingAndGlyphs" fill="#111" stroke="#111" stroke-width="0.18" xml:space="preserve">MBRD835L</text>
<text x="318.3" y="290.87" font-size="6.35" textLength="9.6" lengthAdjust="spacingAndGlyphs" fill="#111" stroke="#111" stroke-width="0.18" xml:space="preserve">opt.</text>
<text x="319.8" y="167.27" font-size="6.35" textLength="7.6" lengthAdjust="spacingAndGlyphs" fill="#111" stroke="#111" stroke-width="0.18" xml:space="preserve">Q1</text>
<text x="314" y="174.57" font-size="6.35" textLength="26.3" lengthAdjust="spacingAndGlyphs" fill="#111" stroke="#111" stroke-width="0.18" xml:space="preserve">FDC638P</text>
<text x="280.6" y="167.36" font-size="6.3" fill="#111" stroke="#111" stroke-width="0.18" xml:space="preserve">3</text>
<text x="387.4" y="169.77" font-size="6.35" textLength="7.4" lengthAdjust="spacingAndGlyphs" fill="#111" stroke="#111" stroke-width="0.18" xml:space="preserve">Q2</text>
<text x="386.1" y="177.57" font-size="6.35" textLength="36.6" lengthAdjust="spacingAndGlyphs" fill="#111" stroke="#111" stroke-width="0.18" xml:space="preserve">NTMS5P02R2</text>
<text x="386.1" y="184.27" font-size="6.35" textLength="9.4" lengthAdjust="spacingAndGlyphs" fill="#111" stroke="#111" stroke-width="0.18" xml:space="preserve">opt.</text>
<text x="349.9" y="167.16" font-size="6.3" fill="#111" stroke="#111" stroke-width="0.18" xml:space="preserve">4</text>
<text x="461.6" y="169.77" font-size="6.35" textLength="7.8" lengthAdjust="spacingAndGlyphs" fill="#111" stroke="#111" stroke-width="0.18" xml:space="preserve">Q3</text>
<text x="460.8" y="177.57" font-size="6.35" textLength="37" lengthAdjust="spacingAndGlyphs" fill="#111" stroke="#111" stroke-width="0.18" xml:space="preserve">NTMS5P02R2</text>
<text x="460.8" y="184.27" font-size="6.35" textLength="9.4" lengthAdjust="spacingAndGlyphs" fill="#111" stroke="#111" stroke-width="0.18" xml:space="preserve">opt.</text>
<text x="424.6" y="167.16" font-size="6.3" fill="#111" stroke="#111" stroke-width="0.18" xml:space="preserve">4</text>
<text x="349.0" y="223.67" font-size="6.35" textLength="6.2" lengthAdjust="spacingAndGlyphs" fill="#111" stroke="#111" stroke-width="0.18" xml:space="preserve">L1</text>
<text x="344.4" y="240.47" font-size="6.35" textLength="15.8" lengthAdjust="spacingAndGlyphs" fill="#111" stroke="#111" stroke-width="0.18" xml:space="preserve">4.7uH</text>
<text x="349.0" y="252.67" font-size="6.35" textLength="6.7" lengthAdjust="spacingAndGlyphs" fill="#111" stroke="#111" stroke-width="0.18" xml:space="preserve">L2</text>
<text x="338.6" y="269.07" font-size="6.35" textLength="15.6" lengthAdjust="spacingAndGlyphs" fill="#111" stroke="#111" stroke-width="0.18" xml:space="preserve">1.0uH</text>
<text x="361.5" y="269.07" font-size="6.35" textLength="9.4" lengthAdjust="spacingAndGlyphs" fill="#111" stroke="#111" stroke-width="0.18" xml:space="preserve">opt.</text>
<text x="438" y="78.47" font-size="6.35" textLength="11.6" lengthAdjust="spacingAndGlyphs" fill="#111" stroke="#111" stroke-width="0.18" xml:space="preserve">Cin1</text>
<text x="437.7" y="85.47" font-size="6.35" textLength="13.4" lengthAdjust="spacingAndGlyphs" fill="#111" stroke="#111" stroke-width="0.18" xml:space="preserve">22uF</text>
<text x="438.6" y="92.77" font-size="6.35" textLength="10.6" lengthAdjust="spacingAndGlyphs" fill="#111" stroke="#111" stroke-width="0.18" xml:space="preserve">10V</text>
<text x="473.8" y="78.47" font-size="6.35" textLength="11.8" lengthAdjust="spacingAndGlyphs" fill="#111" stroke="#111" stroke-width="0.18" xml:space="preserve">Cin2</text>
<text x="472.5" y="85.47" font-size="6.35" textLength="13.4" lengthAdjust="spacingAndGlyphs" fill="#111" stroke="#111" stroke-width="0.18" xml:space="preserve">47uF</text>
<text x="475.3" y="93.47" font-size="6.35" textLength="10.6" lengthAdjust="spacingAndGlyphs" fill="#111" stroke="#111" stroke-width="0.18" xml:space="preserve">10V</text>
<text x="475.3" y="99.87" font-size="6.35" textLength="10.2" lengthAdjust="spacingAndGlyphs" fill="#111" stroke="#111" stroke-width="0.18" xml:space="preserve">opt.</text>
<text x="508.4" y="78.47" font-size="6.35" textLength="11.8" lengthAdjust="spacingAndGlyphs" fill="#111" stroke="#111" stroke-width="0.18" xml:space="preserve">Cin3</text>
<text x="507.2" y="85.47" font-size="6.35" textLength="13.4" lengthAdjust="spacingAndGlyphs" fill="#111" stroke="#111" stroke-width="0.18" xml:space="preserve">47uF</text>
<text x="510" y="93.47" font-size="6.35" textLength="10.6" lengthAdjust="spacingAndGlyphs" fill="#111" stroke="#111" stroke-width="0.18" xml:space="preserve">10V</text>
<text x="510" y="99.87" font-size="6.35" textLength="10.2" lengthAdjust="spacingAndGlyphs" fill="#111" stroke="#111" stroke-width="0.18" xml:space="preserve">opt.</text>
<text x="537.6" y="78.99" font-size="5" fill="#111" stroke="#111" stroke-width="0.18" xml:space="preserve">+</text>
<text x="545" y="77.87" font-size="6.35" textLength="7.6" lengthAdjust="spacingAndGlyphs" fill="#111" stroke="#111" stroke-width="0.18" xml:space="preserve">C2</text>
<text x="541.4" y="85.27" font-size="6.35" textLength="13.4" lengthAdjust="spacingAndGlyphs" fill="#111" stroke="#111" stroke-width="0.18" xml:space="preserve">47uF</text>
<text x="543.2" y="92.27" font-size="6.35" textLength="10.6" lengthAdjust="spacingAndGlyphs" fill="#111" stroke="#111" stroke-width="0.18" xml:space="preserve">10V</text>
<text x="542.8" y="99.87" font-size="6.35" textLength="10.2" lengthAdjust="spacingAndGlyphs" fill="#111" stroke="#111" stroke-width="0.18" xml:space="preserve">opt.</text>
<text x="577.3" y="59.17" font-size="6.35" textLength="10" lengthAdjust="spacingAndGlyphs" fill="#111" stroke="#111" stroke-width="0.18" xml:space="preserve">VIN</text>
<text x="572" y="67.27" font-size="6.35" textLength="26.3" lengthAdjust="spacingAndGlyphs" fill="#111" stroke="#111" stroke-width="0.18" xml:space="preserve">2.75V-8V</text>
<text x="556" y="73.27" font-size="6.35" textLength="7.2" lengthAdjust="spacingAndGlyphs" fill="#111" stroke="#111" stroke-width="0.18" xml:space="preserve">E1</text>
<text x="572.3" y="104.87" font-size="6.35" textLength="14.6" lengthAdjust="spacingAndGlyphs" fill="#111" stroke="#111" stroke-width="0.18" xml:space="preserve">GND</text>
<text x="555.5" y="113.57" font-size="6.35" textLength="7.2" lengthAdjust="spacingAndGlyphs" fill="#111" stroke="#111" stroke-width="0.18" xml:space="preserve">E2</text>
<text x="433.2" y="257.27" font-size="6.35" textLength="15.8" lengthAdjust="spacingAndGlyphs" fill="#111" stroke="#111" stroke-width="0.18" xml:space="preserve">Cout1</text>
<text x="432.8" y="264.27" font-size="6.35" textLength="13.4" lengthAdjust="spacingAndGlyphs" fill="#111" stroke="#111" stroke-width="0.18" xml:space="preserve">47uF</text>
<text x="435" y="271.47" font-size="6.35" textLength="11.5" lengthAdjust="spacingAndGlyphs" fill="#111" stroke="#111" stroke-width="0.18" xml:space="preserve">6.3V</text>
<text x="467.7" y="257.27" font-size="6.35" textLength="15.8" lengthAdjust="spacingAndGlyphs" fill="#111" stroke="#111" stroke-width="0.18" xml:space="preserve">Cout2</text>
<text x="466.5" y="264.27" font-size="6.35" textLength="16.4" lengthAdjust="spacingAndGlyphs" fill="#111" stroke="#111" stroke-width="0.18" xml:space="preserve">100uF</text>
<text x="469.8" y="271.47" font-size="6.35" textLength="11.5" lengthAdjust="spacingAndGlyphs" fill="#111" stroke="#111" stroke-width="0.18" xml:space="preserve">6.3V</text>
<text x="470.5" y="278.47" font-size="6.35" textLength="10" lengthAdjust="spacingAndGlyphs" fill="#111" stroke="#111" stroke-width="0.18" xml:space="preserve">opt.</text>
<text x="502.8" y="257.27" font-size="6.35" textLength="15.8" lengthAdjust="spacingAndGlyphs" fill="#111" stroke="#111" stroke-width="0.18" xml:space="preserve">Cout3</text>
<text x="501.6" y="264.27" font-size="6.35" textLength="16.4" lengthAdjust="spacingAndGlyphs" fill="#111" stroke="#111" stroke-width="0.18" xml:space="preserve">100uF</text>
<text x="504.6" y="271.47" font-size="6.35" textLength="11.5" lengthAdjust="spacingAndGlyphs" fill="#111" stroke="#111" stroke-width="0.18" xml:space="preserve">6.3V</text>
<text x="504.6" y="278.47" font-size="6.35" textLength="10" lengthAdjust="spacingAndGlyphs" fill="#111" stroke="#111" stroke-width="0.18" xml:space="preserve">opt.</text>
<text x="539.2" y="254.77" font-size="6.35" textLength="7.6" lengthAdjust="spacingAndGlyphs" fill="#111" stroke="#111" stroke-width="0.18" xml:space="preserve">C3</text>
<text x="538.4" y="262.27" font-size="6.35" textLength="9.2" lengthAdjust="spacingAndGlyphs" fill="#111" stroke="#111" stroke-width="0.18" xml:space="preserve">1uF</text>
<text x="536.8" y="269.77" font-size="6.35" textLength="11.5" lengthAdjust="spacingAndGlyphs" fill="#111" stroke="#111" stroke-width="0.18" xml:space="preserve">6.3V</text>
<text x="537.2" y="277.27" font-size="6.35" textLength="10" lengthAdjust="spacingAndGlyphs" fill="#111" stroke="#111" stroke-width="0.18" xml:space="preserve">opt.</text>
<text x="567.2" y="260.27" font-size="6.35" textLength="7.8" lengthAdjust="spacingAndGlyphs" fill="#111" stroke="#111" stroke-width="0.18" xml:space="preserve">C4</text>
<text x="566" y="268.27" font-size="6.35" textLength="10" lengthAdjust="spacingAndGlyphs" fill="#111" stroke="#111" stroke-width="0.18" xml:space="preserve">opt.</text>
<text x="592.2" y="222.27" font-size="6.35" textLength="16.3" lengthAdjust="spacingAndGlyphs" fill="#111" stroke="#111" stroke-width="0.18" xml:space="preserve">VOUT</text>
<text x="581" y="230.47" font-size="6.35" textLength="42.5" lengthAdjust="spacingAndGlyphs" fill="#111" stroke="#111" stroke-width="0.18" xml:space="preserve">1.8V/2.5V/3.3V</text>
<text x="594" y="239.27" font-size="6.35" textLength="14.5" lengthAdjust="spacingAndGlyphs" fill="#111" stroke="#111" stroke-width="0.18" xml:space="preserve">@2A</text>
<text x="566.5" y="242.27" font-size="6.35" textLength="7.5" lengthAdjust="spacingAndGlyphs" fill="#111" stroke="#111" stroke-width="0.18" xml:space="preserve">E3</text>
<text x="582.2" y="290.27" font-size="6.35" textLength="13.8" lengthAdjust="spacingAndGlyphs" fill="#111" stroke="#111" stroke-width="0.18" xml:space="preserve">GND</text>
<text x="566.5" y="297.27" font-size="6.35" textLength="7.5" lengthAdjust="spacingAndGlyphs" fill="#111" stroke="#111" stroke-width="0.18" xml:space="preserve">E4</text>
<text x="297.32" y="195.98" font-size="4.7" text-anchor="middle" transform="rotate(-90 297.32 194.3)" fill="#000" stroke="#000" stroke-width="0.18" xml:space="preserve">1</text>
<text x="303.08" y="195.98" font-size="4.7" text-anchor="middle" transform="rotate(-90 303.08 194.3)" fill="#000" stroke="#000" stroke-width="0.18" xml:space="preserve">2</text>
<text x="308.84000000000003" y="195.98" font-size="4.7" text-anchor="middle" transform="rotate(-90 308.84000000000003 194.3)" fill="#000" stroke="#000" stroke-width="0.18" xml:space="preserve">5</text>
<text x="314.6" y="195.98" font-size="4.7" text-anchor="middle" transform="rotate(-90 314.6 194.3)" fill="#000" stroke="#000" stroke-width="0.18" xml:space="preserve">6</text>
<text x="372.2" y="151.58" font-size="4.7" text-anchor="middle" transform="rotate(-90 372.2 149.9)" fill="#000" stroke="#000" stroke-width="0.18" xml:space="preserve">1</text>
<text x="377.96000000000004" y="151.58" font-size="4.7" text-anchor="middle" transform="rotate(-90 377.96000000000004 149.9)" fill="#000" stroke="#000" stroke-width="0.18" xml:space="preserve">2</text>
<text x="383.72" y="151.58" font-size="4.7" text-anchor="middle" transform="rotate(-90 383.72 149.9)" fill="#000" stroke="#000" stroke-width="0.18" xml:space="preserve">3</text>
<text x="372.2" y="201.18" font-size="4.7" text-anchor="middle" transform="rotate(-90 372.2 199.5)" fill="#000" stroke="#000" stroke-width="0.18" xml:space="preserve">5</text>
<text x="377.96000000000004" y="201.18" font-size="4.7" text-anchor="middle" transform="rotate(-90 377.96000000000004 199.5)" fill="#000" stroke="#000" stroke-width="0.18" xml:space="preserve">6</text>
<text x="383.72" y="201.18" font-size="4.7" text-anchor="middle" transform="rotate(-90 383.72 199.5)" fill="#000" stroke="#000" stroke-width="0.18" xml:space="preserve">7</text>
<text x="389.48" y="201.18" font-size="4.7" text-anchor="middle" transform="rotate(-90 389.48 199.5)" fill="#000" stroke="#000" stroke-width="0.18" xml:space="preserve">8</text>
<text x="447.08" y="151.58" font-size="4.7" text-anchor="middle" transform="rotate(-90 447.08 149.9)" fill="#000" stroke="#000" stroke-width="0.18" xml:space="preserve">1</text>
<text x="452.84000000000003" y="151.58" font-size="4.7" text-anchor="middle" transform="rotate(-90 452.84000000000003 149.9)" fill="#000" stroke="#000" stroke-width="0.18" xml:space="preserve">2</text>
<text x="458.6" y="151.58" font-size="4.7" text-anchor="middle" transform="rotate(-90 458.6 149.9)" fill="#000" stroke="#000" stroke-width="0.18" xml:space="preserve">3</text>
<text x="447.08" y="201.18" font-size="4.7" text-anchor="middle" transform="rotate(-90 447.08 199.5)" fill="#000" stroke="#000" stroke-width="0.18" xml:space="preserve">5</text>
<text x="452.84000000000003" y="201.18" font-size="4.7" text-anchor="middle" transform="rotate(-90 452.84000000000003 199.5)" fill="#000" stroke="#000" stroke-width="0.18" xml:space="preserve">6</text>
<text x="458.6" y="201.18" font-size="4.7" text-anchor="middle" transform="rotate(-90 458.6 199.5)" fill="#000" stroke="#000" stroke-width="0.18" xml:space="preserve">7</text>
<text x="464.36" y="201.18" font-size="4.7" text-anchor="middle" transform="rotate(-90 464.36 199.5)" fill="#000" stroke="#000" stroke-width="0.18" xml:space="preserve">8</text>
<text x="297.3" y="156.78" font-size="4.7" text-anchor="middle" transform="rotate(-90 297.3 155.1)" fill="#000" stroke="#000" stroke-width="0.18" xml:space="preserve">4</text>
<text x="303.4" y="267.30" font-size="5.6" text-anchor="middle" transform="rotate(-90 303.4 265.3)" fill="#000" stroke="#000" stroke-width="0.18" xml:space="preserve">4</text>
<text x="297.6" y="299.30" font-size="5.6" text-anchor="middle" transform="rotate(-90 297.6 297.3)" fill="#000" stroke="#000" stroke-width="0.18" xml:space="preserve">1</text>
<text x="309.2" y="299.30" font-size="5.6" text-anchor="middle" transform="rotate(-90 309.2 297.3)" fill="#000" stroke="#000" stroke-width="0.18" xml:space="preserve">3</text>
<rect x="138.3" y="357.5" width="489.99999999999994" height="97.5" fill="none" stroke="#222" stroke-width="0.8" />
<line x1="294.3" y1="357.5" x2="294.3" y2="455" stroke="#222" stroke-width="0.8" />
<line x1="383.4" y1="357.5" x2="383.4" y2="455" stroke="#222" stroke-width="0.8" />
<line x1="138.3" y1="438" x2="294.3" y2="438" stroke="#222" stroke-width="0.8" />
<line x1="294.3" y1="374.5" x2="383.4" y2="374.5" stroke="#222" stroke-width="0.8" />
<line x1="294.3" y1="385.1" x2="383.4" y2="385.1" stroke="#222" stroke-width="0.8" />
<line x1="294.3" y1="394.5" x2="383.4" y2="394.5" stroke="#222" stroke-width="0.8" />
<line x1="294.3" y1="403.2" x2="383.4" y2="403.2" stroke="#222" stroke-width="0.8" />
<line x1="294.3" y1="412.7" x2="383.4" y2="412.7" stroke="#222" stroke-width="0.8" />
<line x1="294.3" y1="422.0" x2="383.4" y2="422.0" stroke="#222" stroke-width="0.8" />
<line x1="294.3" y1="430.8" x2="383.4" y2="430.8" stroke="#222" stroke-width="0.8" />
<line x1="294.3" y1="440.6" x2="383.4" y2="440.6" stroke="#222" stroke-width="0.8" />
<line x1="359.6" y1="374.5" x2="359.6" y2="440.6" stroke="#222" stroke-width="0.8" />
<line x1="383.2" y1="386.3" x2="628.3" y2="386.3" stroke="#222" stroke-width="0.8" />
<line x1="383.2" y1="418.9" x2="628.3" y2="418.9" stroke="#222" stroke-width="0.8" />
<line x1="383.2" y1="440.7" x2="628.3" y2="440.7" stroke="#222" stroke-width="0.8" />
<line x1="404.9" y1="418.9" x2="404.9" y2="440.7" stroke="#222" stroke-width="0.8" />
<line x1="469.4" y1="418.9" x2="469.4" y2="440.7" stroke="#222" stroke-width="0.8" />
<line x1="606.7" y1="418.9" x2="606.7" y2="440.7" stroke="#222" stroke-width="0.8" />
<line x1="432.5" y1="440.7" x2="432.5" y2="455" stroke="#222" stroke-width="0.8" />
<line x1="527.5" y1="440.7" x2="527.5" y2="455" stroke="#222" stroke-width="0.8" />
<text x="167.5" y="369.53" font-size="13.2" font-weight="bold" textLength="93" lengthAdjust="spacingAndGlyphs" fill="#000" xml:space="preserve">CUSTOMER NOTICE</text>
<text x="143.2" y="379.58" font-size="6.1" font-weight="bold" textLength="144.2" lengthAdjust="spacingAndGlyphs" fill="#000" xml:space="preserve">LINEAR TECHNOLOGY HAS MADE A BEST EFFORT TO DESIGN A</text>
<text x="143.2" y="387.58" font-size="6.1" font-weight="bold" textLength="142.2" lengthAdjust="spacingAndGlyphs" fill="#000" xml:space="preserve">CIRCUIT THAT MEETS CUSTOMER-SUPPLIED SPECIFICATIONS;</text>
<text x="143.2" y="395.58" font-size="6.1" font-weight="bold" textLength="139.8" lengthAdjust="spacingAndGlyphs" fill="#000" xml:space="preserve">HOWEVER, IT REMAINS THE CUSTOMER'S RESPONSIBILITY TO</text>
<text x="143.2" y="403.58" font-size="6.1" font-weight="bold" textLength="136.2" lengthAdjust="spacingAndGlyphs" fill="#000" xml:space="preserve">VERIFY PROPER AND RELIABLE OPERATION IN THE ACTUAL</text>
<text x="143.2" y="411.58" font-size="6.1" font-weight="bold" textLength="131.8" lengthAdjust="spacingAndGlyphs" fill="#000" xml:space="preserve">APPLICATION.  COMPONENT SUBSTITUTION AND PRINTED</text>
<text x="143.2" y="419.58" font-size="6.1" font-weight="bold" textLength="144.8" lengthAdjust="spacingAndGlyphs" fill="#000" xml:space="preserve">CIRCUIT BOARD LAYOUT MAY SIGNIFICANTLY AFFECT CIRCUIT</text>
<text x="143.2" y="427.58" font-size="6.1" font-weight="bold" textLength="117.8" lengthAdjust="spacingAndGlyphs" fill="#000" xml:space="preserve">PERFORMANCE OR RELIABILITY.  CONTACT LINEAR</text>
<text x="143.2" y="435.58" font-size="6.1" font-weight="bold" textLength="142.2" lengthAdjust="spacingAndGlyphs" fill="#000" xml:space="preserve">TECHNOLOGY APPLICATIONS ENGINEERING FOR ASSISTANCE.</text>
<text x="146.8" y="445.48" font-size="6.1" font-weight="bold" textLength="140.8" lengthAdjust="spacingAndGlyphs" fill="#000" xml:space="preserve">THIS CIRCUIT IS PROPRIETARY TO LINEAR TECHNOLOGY AND</text>
<text x="146.8" y="453.28" font-size="6.1" font-weight="bold" textLength="126.2" lengthAdjust="spacingAndGlyphs" fill="#000" xml:space="preserve">SUPPLIED FOR USE WITH LINEAR TECHNOLOGY PARTS.</text>
<text x="296.8" y="365.28" font-size="7.2" textLength="43.2" lengthAdjust="spacingAndGlyphs" fill="#111" stroke="#111" stroke-width="0.1" xml:space="preserve">CONTRACT NO.</text>
<text x="307.3" y="382.55" font-size="7.4" textLength="36.7" lengthAdjust="spacingAndGlyphs" fill="#111" stroke="#111" stroke-width="0.1" xml:space="preserve">APPROVALS</text>
<text x="363.5" y="382.55" font-size="7.4" textLength="14.7" lengthAdjust="spacingAndGlyphs" fill="#111" stroke="#111" stroke-width="0.1" xml:space="preserve">DATE</text>
<text x="295.2" y="390.90" font-size="5.6" textLength="19.3" lengthAdjust="spacingAndGlyphs" fill="#383838" xml:space="preserve">DRAWN</text>
<text x="332" y="392.11" font-size="5.9" textLength="21" lengthAdjust="spacingAndGlyphs" fill="#333" stroke="#333" stroke-width="0.08" xml:space="preserve">June Wu</text>
<text x="363.2" y="392.11" font-size="5.9" textLength="14.5" lengthAdjust="spacingAndGlyphs" fill="#333" stroke="#333" stroke-width="0.08" xml:space="preserve">9/9/04</text>
<text x="295.2" y="399.80" font-size="5.6" textLength="25.1" lengthAdjust="spacingAndGlyphs" fill="#383838" xml:space="preserve">CHECKED</text>
<text x="295.2" y="409.10" font-size="5.6" textLength="28.5" lengthAdjust="spacingAndGlyphs" fill="#383838" xml:space="preserve">APPROVED</text>
<text x="295.2" y="418.50" font-size="5.6" textLength="27.3" lengthAdjust="spacingAndGlyphs" fill="#383838" xml:space="preserve">ENGINEER</text>
<text x="328.3" y="420.31" font-size="5.9" textLength="25.4" lengthAdjust="spacingAndGlyphs" fill="#333" stroke="#333" stroke-width="0.08" xml:space="preserve">Walker Bai</text>
<text x="363.2" y="420.31" font-size="5.9" textLength="14.5" lengthAdjust="spacingAndGlyphs" fill="#333" stroke="#333" stroke-width="0.08" xml:space="preserve">9/9/04</text>
<text x="295.2" y="428.00" font-size="5.6" textLength="27.3" lengthAdjust="spacingAndGlyphs" fill="#383838" xml:space="preserve">DESIGNER</text>
<text x="302" y="450.11" font-size="5.9" textLength="64.8" lengthAdjust="spacingAndGlyphs" fill="#333" stroke="#333" stroke-width="0.08" xml:space="preserve">Monday, February 28, 2005</text>
<text x="385.4" y="394.46" font-size="6.6" textLength="16.2" lengthAdjust="spacingAndGlyphs" fill="#111" stroke="#111" stroke-width="0.1" xml:space="preserve">TITLE</text>
<text x="409.6" y="404.31" font-size="7.3" textLength="177" lengthAdjust="spacingAndGlyphs" fill="#111" stroke="#111" stroke-width="0.1" xml:space="preserve">LTC3772EDDB, 550kHz Step-Down DC/DC Converter</text>
<text x="386.5" y="426.16" font-size="6.6" textLength="11.9" lengthAdjust="spacingAndGlyphs" fill="#111" stroke="#111" stroke-width="0.1" xml:space="preserve">SIZE</text>
<text x="406.4" y="426.16" font-size="6.6" textLength="34.6" lengthAdjust="spacingAndGlyphs" fill="#111" stroke="#111" stroke-width="0.1" xml:space="preserve">CAGE CODE</text>
<text x="472" y="426.49" font-size="6.4" textLength="24.2" lengthAdjust="spacingAndGlyphs" fill="#111" stroke="#111" stroke-width="0.1" xml:space="preserve">DWG NO</text>
<text x="519" y="434.69" font-size="9.2" textLength="34" lengthAdjust="spacingAndGlyphs" fill="#111" stroke="#111" stroke-width="0.1" xml:space="preserve">DC836A</text>
<text x="611" y="426.29" font-size="6.4" textLength="12.4" lengthAdjust="spacingAndGlyphs" fill="#111" stroke="#111" stroke-width="0.1" xml:space="preserve">REV</text>
<text x="615.1" y="435.79" font-size="6.4" fill="#111" stroke="#111" stroke-width="0.1" xml:space="preserve">A</text>
<text x="385.4" y="451.06" font-size="6.6" textLength="20.6" lengthAdjust="spacingAndGlyphs" fill="#111" stroke="#111" stroke-width="0.1" xml:space="preserve">SCALE:</text>
<text x="435.8" y="451.06" font-size="6.6" textLength="29" lengthAdjust="spacingAndGlyphs" fill="#111" stroke="#111" stroke-width="0.1" xml:space="preserve">FILENAME:</text>
<text x="530.3" y="451.39" font-size="6.4" textLength="21" lengthAdjust="spacingAndGlyphs" fill="#111" stroke="#111" stroke-width="0.1" xml:space="preserve">SHEET</text>
<text x="565.6" y="451.62" font-size="6.2" fill="#111" stroke="#111" stroke-width="0.1" xml:space="preserve">1</text>
<text x="592" y="451.49" font-size="6.4" textLength="8.6" lengthAdjust="spacingAndGlyphs" fill="#111" stroke="#111" stroke-width="0.1" xml:space="preserve">OF</text>
<text x="614.2" y="450.92" font-size="6.2" fill="#111" stroke="#111" stroke-width="0.1" xml:space="preserve">1</text>
<text x="527.2" y="366.25" font-size="4.6" textLength="48.3" lengthAdjust="spacingAndGlyphs" fill="#222" stroke="#222" stroke-width="0.06" xml:space="preserve">1630 McCarthy Blvd.</text>
<text x="527.2" y="371.85" font-size="4.6" textLength="37.8" lengthAdjust="spacingAndGlyphs" fill="#222" stroke="#222" stroke-width="0.06" xml:space="preserve">Milpitas, CA 95035</text>
<text x="527.2" y="377.45" font-size="4.6" textLength="53.3" lengthAdjust="spacingAndGlyphs" fill="#222" stroke="#222" stroke-width="0.06" xml:space="preserve">Phone: (408)432-1900</text>
<text x="527.2" y="383.05" font-size="4.6" textLength="46.3" lengthAdjust="spacingAndGlyphs" fill="#222" stroke="#222" stroke-width="0.06" xml:space="preserve">Fax: (408)434-0507</text>
<polygon points="430.6,361.9 435.8,361.3 432.0,365.5 430.6,369.3 430.6,374.5 434.5,378.3 442.7,379.2 441.4,382.7 415,382.7 422.8,376.6 425,368.4" fill="#000" stroke="none" stroke-width="0"/>
<polygon points="438.4,361.3 464.8,361.3 457,368.4 454.4,375.3 446.6,382.7 443.2,382.7 445.8,376.6 448.4,370.1 445.3,365.4 436.2,364.8" fill="#000" stroke="none" stroke-width="0"/>
<text x="467.7" y="377.41" font-size="23.2" font-weight="bold" textLength="53.6" lengthAdjust="spacingAndGlyphs" fill="#000" xml:space="preserve">LINEAR</text>
<text x="468.3" y="383.87" font-size="6.9" textLength="50.6" lengthAdjust="spacingAndGlyphs" fill="#000" stroke="#000" stroke-width="0.1" xml:space="preserve">TECHNOLOGY</text>
<rect x="481.4" y="361.25" width="23.100000000000023" height="2.0500000000000114" fill="#000" stroke="none" stroke-width="0" />
</svg>
</body></html>
